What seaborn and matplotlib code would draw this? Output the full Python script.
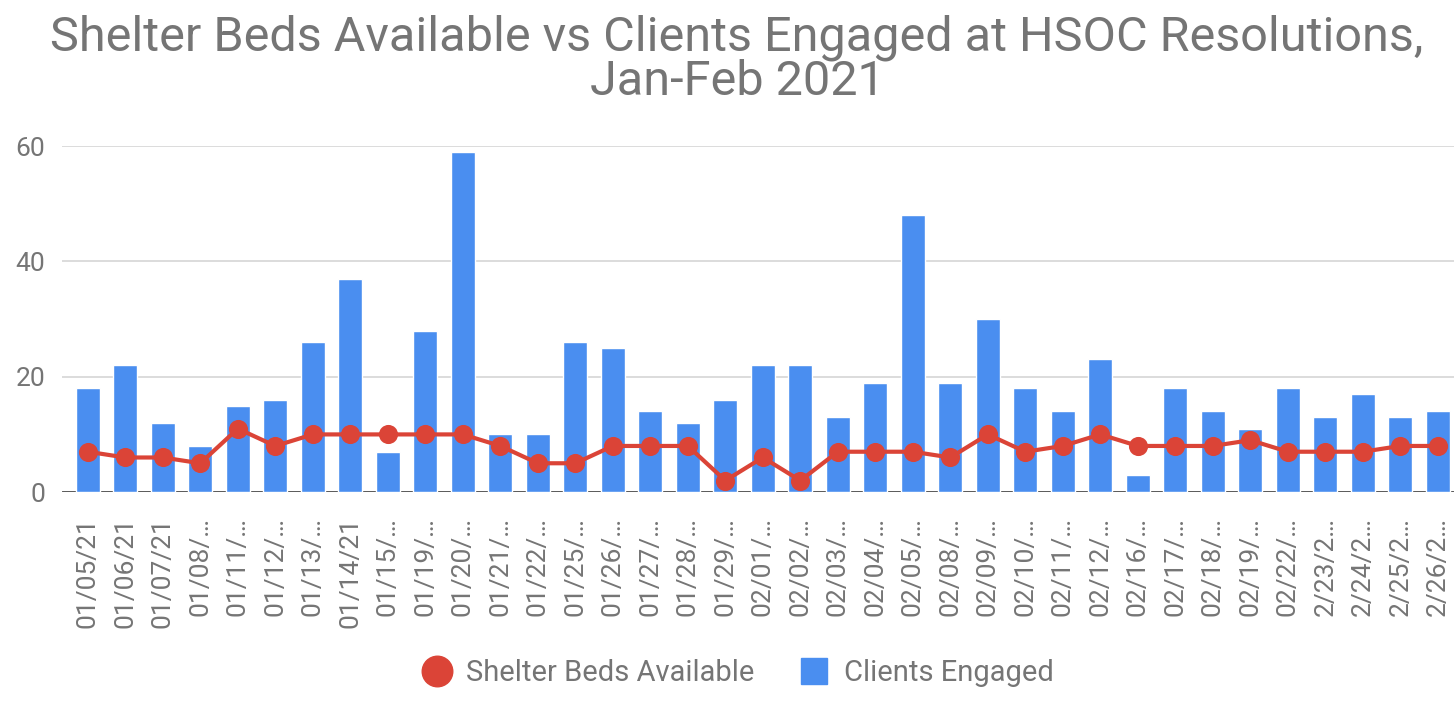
import matplotlib
matplotlib.use("Agg")
import matplotlib.pyplot as plt
from matplotlib.lines import Line2D
import seaborn as sns
import pandas as pd

dates = ["01/05/21", "01/06/21", "01/07/21", "01/08/…", "01/11/…", "01/12/…",
         "01/13/…", "01/14/21", "01/15/…", "01/19/…", "01/20/…", "01/21/…",
         "01/22/…", "01/25/…", "01/26/…", "01/27/…", "01/28/…", "01/29/…",
         "02/01/…", "02/02/…", "02/03/…", "02/04/…", "02/05/…", "02/08/…",
         "02/09/…", "02/10/…", "02/11/…", "02/12/…", "02/16/…", "02/17/…",
         "02/18/…", "02/19/…", "02/22/…", "2/23/2…", "2/24/2…", "2/25/2…",
         "2/26/2…"]
clients_engaged = [18, 22, 12, 8, 15, 16, 26, 37, 7, 28, 59, 10, 10, 26, 25, 14,
                   12, 16, 22, 22, 13, 19, 48, 19, 30, 18, 14, 23, 3, 18, 14, 11,
                   18, 13, 17, 13, 14]
beds_available = [7, 6, 6, 5, 11, 8, 10, 10, 10, 10, 10, 8, 5, 5, 8, 8, 8, 2, 6,
                  2, 7, 7, 7, 6, 10, 7, 8, 10, 8, 8, 8, 9, 7, 7, 7, 8, 8]
y_ticks = [0, 20, 40, 60]

BLUE = "#4a8ef0"
RED = "#db4437"
TEXT = "#757575"

df = pd.DataFrame({"date": dates, "clients": clients_engaged, "beds": beds_available})

sns.set_theme(style="white")
plt.rcParams["font.family"] = ["Roboto", "DejaVu Sans"]

fig = plt.figure(figsize=(14.54, 7.02), dpi=100)
ax = fig.add_axes([0.0426, 0.299, 0.9574, 0.493])

sns.barplot(data=df, x="date", y="clients", color=BLUE, saturation=1,
            width=0.64, ax=ax, zorder=3)
sns.pointplot(data=df, x="date", y="beds", color=RED, marker="o",
              markersize=11.5, linewidth=3, ax=ax, zorder=5)

ax.axhline(0, color="#333333", lw=1.8, zorder=2)
ax.set_ylim(0, 60)
ax.set_xlim(-0.69, 36.43)
ax.set_yticks(y_ticks)
ax.yaxis.grid(True, color="#d9d9d9", lw=1.3, zorder=0)
ax.set_axisbelow(True)
for s in ax.spines.values():
    s.set_visible(False)
ax.set_xlabel("")
ax.set_ylabel("")
ax.tick_params(axis="y", labelsize=19, colors=TEXT, length=0, pad=12)
ax.tick_params(axis="x", labelsize=19, colors=TEXT, length=0, pad=18)
for lab in ax.get_xticklabels():
    lab.set_rotation(90)
    lab.set_va("top")
    lab.set_ha("center")

fig.text(0.507, 0.980,
         "Shelter Beds Available vs Clients Engaged at HSOC Resolutions,\nJan-Feb 2021",
         ha="center", va="top", fontsize=35, color=TEXT, linespacing=0.95)

handles = [
    Line2D([], [], marker="o", ls="", color=RED, markersize=22),
    Line2D([], [], marker="s", ls="", color=BLUE, markersize=19),
]
fig.legend(handles, ["Shelter Beds Available", "Clients Engaged"],
           loc="center", bbox_to_anchor=(0.507, 0.041), ncol=2, frameon=False,
           fontsize=21, labelcolor=TEXT, handletextpad=0.45, columnspacing=1.5,
           handlelength=1.1)

fig.savefig("out.png", dpi=100)
